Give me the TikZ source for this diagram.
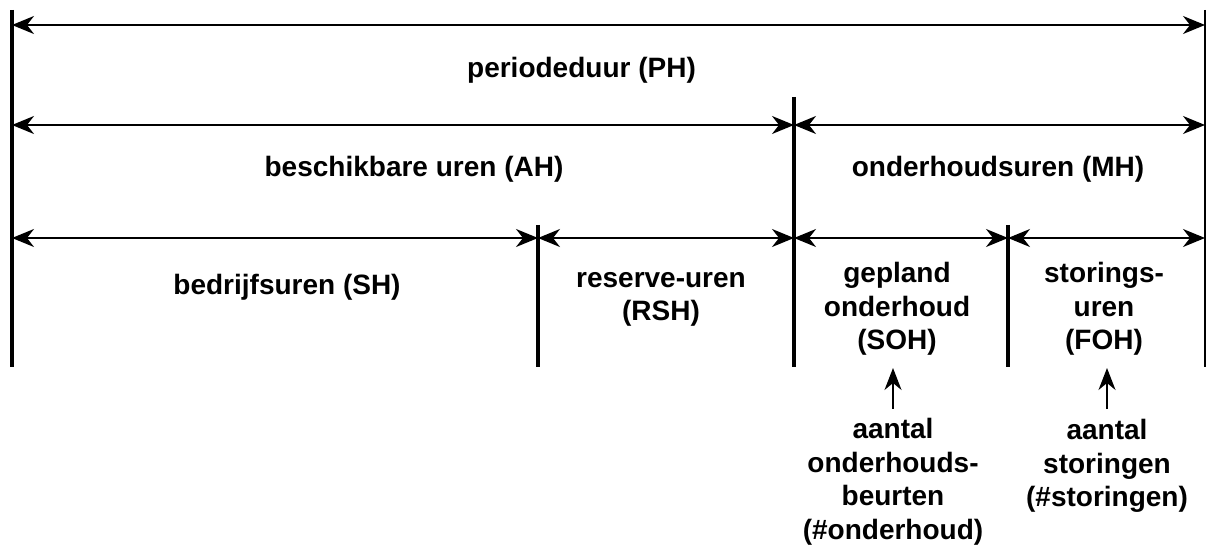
\documentclass[tikz,border=0pt]{standalone}
\usepackage{fontspec}
\setmainfont{Liberation Sans}
\usetikzlibrary{arrows.meta}
\begin{document}
\begin{tikzpicture}[x=1pt,y=-1pt,
  bar/.style={line width=4pt},
  rbar/.style={line width=2pt},
  dim/.style={line width=1.5pt,{Stealth[length=22pt,width=18pt,inset=7pt]}-{Stealth[length=22pt,width=18pt,inset=7pt]}},
  up/.style={line width=1.5pt,-{Stealth[length=22pt,width=17pt,inset=7pt]}},
  lbl/.style={inner sep=0pt,align=center,font=\fontsize{28}{33.5}\selectfont\bfseries}]
\useasboundingbox (0,0) rectangle (1206,545);
% vertical bars
\coordinate (Lt) at (12,10);   \coordinate (Lb) at (12,367);
\coordinate (Rt) at (1205,10); \coordinate (Rb) at (1205,367);
\coordinate (Mt) at (794,97);  \coordinate (Mb) at (794,367);
\coordinate (At) at (538,225); \coordinate (Ab) at (538,367);
\coordinate (Bt) at (1008,225);\coordinate (Bb) at (1008,367);
\draw[bar] (Lt) -- (Lb);
\draw[rbar] (Rt) -- (Rb);
\draw[bar] (Mt) -- (Mb);
\draw[bar] (At) -- (Ab);
\draw[bar] (Bt) -- (Bb);
% arrow levels
\coordinate (L1) at (12,25);  \coordinate (R1) at (1205,25);
\coordinate (L2) at (12,125); \coordinate (M2) at (794,125); \coordinate (R2) at (1205,125);
\coordinate (L3) at (12,238); \coordinate (A3) at (538,238); \coordinate (M3) at (794,238);
\coordinate (B3) at (1008,238); \coordinate (R3) at (1205,238);
\draw[dim] (L1) -- (R1);
\draw[dim] (L2) -- (M2);
\draw[dim] (M2) -- (R2);
\draw[dim] (L3) -- (A3);
\draw[dim] (A3) -- (M3);
\draw[dim] (M3) -- (B3);
\draw[dim] (B3) -- (R3);
% labels
\node[lbl,anchor=base] (ph) at (581.5,78) {periodeduur (PH)};
\node[lbl,anchor=base] (ah) at (414,177) {beschikbare uren (AH)};
\node[lbl,anchor=base] (mh) at (998,177) {onderhoudsuren (MH)};
\node[lbl,anchor=base] (sh) at (287,294) {bedrijfsuren (SH)};
\node[lbl] (rsh) at (661,299.5) {reserve-uren\\(RSH)};
\node[lbl] (soh) at (897,309) {gepland\\onderhoud\\(SOH)};
\node[lbl] (foh) at (1104,309) {storings-\\uren\\(FOH)};
\node[lbl] (nso) at (893,482) {aantal\\onderhouds-\\beurten\\(\#onderhoud)};
\node[lbl] (nfo) at (1107,466) {aantal\\storingen\\(\#storingen)};
\draw[up,shorten <=10pt] (nso.north) -- (nso.north |- 0,368);
\draw[up,shorten <=10pt] (nfo.north) -- (nfo.north |- 0,368);
\end{tikzpicture}
\end{document}
